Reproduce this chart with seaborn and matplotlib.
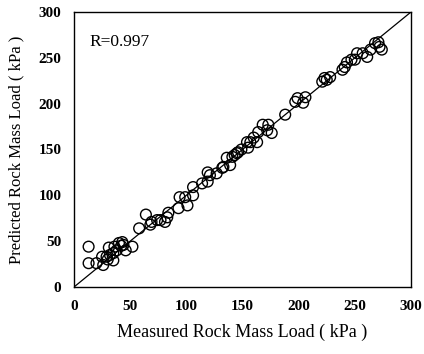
import matplotlib
matplotlib.use("Agg")
import matplotlib.pyplot as plt
import seaborn as sns
import pandas as pd

measured = [13, 13, 20, 26, 25, 29, 31, 32, 35, 35, 36, 40, 43, 44, 46, 52, 58, 64, 68, 69,
            77, 81, 83, 84, 93, 94, 99, 101, 106, 106, 114, 119, 121, 119, 127, 132, 133, 139,
            141, 143, 145, 146, 155, 154, 157, 163, 164, 168, 173, 176, 172, 188, 197, 199,
            204, 206, 221, 223, 225, 228, 239, 241, 243, 247, 250, 252, 257, 261, 264, 268,
            271, 272, 274, 38, 42, 30, 74, 136, 149, 160]
predicted = [44, 26, 26, 24, 33, 33, 43, 35, 37, 29, 44, 48, 49, 46, 40, 44, 64, 79, 68, 71,
             73, 71, 76, 81, 86, 98, 98, 89, 100, 109, 113, 115, 122, 125, 124, 130, 131, 133,
             142, 144, 146, 147, 152, 158, 158, 158, 169, 177, 177, 168, 171, 188, 202, 206,
             201, 207, 224, 228, 226, 229, 237, 240, 245, 248, 248, 255, 255, 251, 259, 266,
             267, 262, 259, 40, 45, 30, 73, 141, 150, 163]
line_x = [0, 300]
line_y = [0, 300]
r_text = "R=0.997"
ticks = [0, 50, 100, 150, 200, 250, 300]

sns.set_theme(style="white")
plt.rcParams['font.family'] = ['Liberation Serif', 'DejaVu Serif']

fig = plt.figure(figsize=(4.24, 3.54), dpi=100)
ax = fig.add_axes([74/424, 67/354, 337/424, 275/354])

df = pd.DataFrame({"m": measured, "p": predicted})
sns.lineplot(x=line_x, y=line_y, ax=ax, color="black", linewidth=0.9)
sns.scatterplot(data=df, x="m", y="p", ax=ax, s=60, facecolor="none",
                edgecolor="black", linewidth=1.0, marker="o")

ax.set_xlim(0, 300)
ax.set_ylim(0, 300)
ax.set_xticks(ticks)
ax.set_yticks(ticks)
ax.tick_params(direction="in", length=4, width=0.9, colors="black",
               labelsize=11, pad=9)
for lab in ax.get_xticklabels() + ax.get_yticklabels():
    lab.set_fontweight("bold")
for sp in ax.spines.values():
    sp.set_color("black")
    sp.set_linewidth(1.0)
ax.set_xlabel("Measured Rock Mass Load ( kPa )", fontsize=13, color="black", labelpad=8)
ax.set_ylabel("Predicted Rock Mass Load ( kPa )", fontsize=12, color="black", labelpad=10)
ax.text(14, 267, r_text, fontsize=12.5, color="black", va="center", ha="left")

fig.savefig("out.png", dpi=100)
